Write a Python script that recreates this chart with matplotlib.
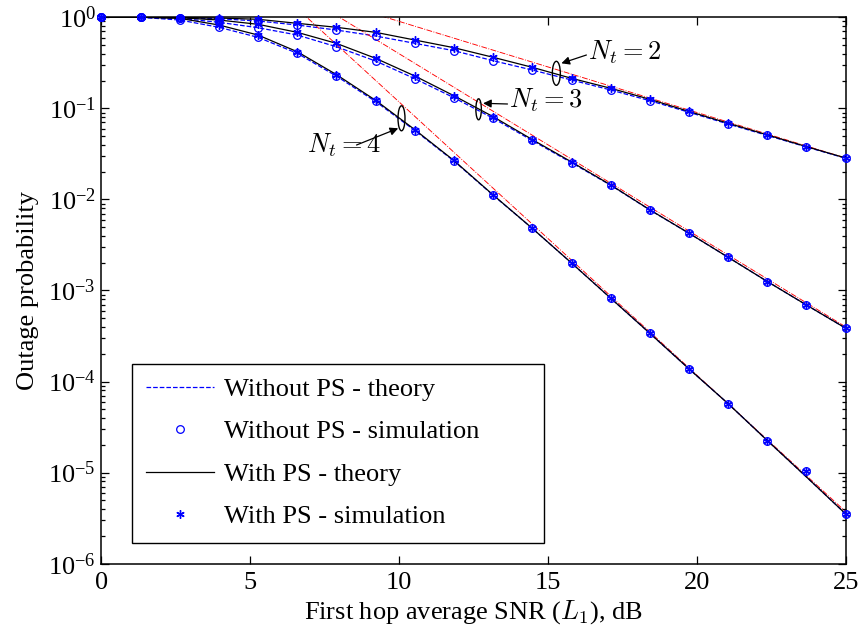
import numpy as np
import matplotlib
matplotlib.use('Agg')
import matplotlib.pyplot as plt
from matplotlib.patches import Ellipse, Rectangle
from matplotlib.transforms import ScaledTranslation
from matplotlib.ticker import LogLocator, NullFormatter

plt.rcParams['font.family'] = ['Liberation Serif', 'DejaVu Serif']
plt.rcParams['mathtext.fontset'] = 'cm'

# ---------------- data ----------------
snr_db = [0, 1.32, 2.63, 3.95, 5.26, 6.58, 7.89, 9.21, 10.53, 11.84,
          13.16, 14.47, 15.79, 17.11, 18.42, 19.74, 21.05, 22.37, 23.68, 25]

# Nt = 2
nops2_theory = [1.0, 1.0, 0.982, 0.965, 0.911, 0.823, 0.725, 0.623, 0.518, 0.430,
                0.3337, 0.2638, 0.2049, 0.1591, 0.1214, 0.0905, 0.0674, 0.0504, 0.0377, 0.0283]
nops2_sim = [1.0, 1.0, 0.982, 0.965, 0.911, 0.823, 0.725, 0.623, 0.518, 0.430,
             0.3337, 0.2638, 0.2049, 0.1591, 0.1214, 0.0905, 0.0674, 0.0504, 0.0377, 0.0283]
ps2_theory = [1.0, 1.0, 0.995, 0.982, 0.951, 0.859, 0.777, 0.684, 0.563, 0.4637,
              0.3637, 0.2825, 0.2139, 0.1661, 0.1258, 0.0924, 0.0687, 0.0511, 0.0380, 0.0285]
ps2_sim = [1.0, 1.0, 0.995, 0.982, 0.951, 0.859, 0.777, 0.684, 0.563, 0.4637,
           0.3637, 0.2825, 0.2139, 0.1661, 0.1258, 0.0924, 0.0687, 0.0511, 0.0380, 0.0285]

# Nt = 3
nops3_theory = [1.0, 1.0, 0.975, 0.881, 0.769, 0.639, 0.4755, 0.3312, 0.2117, 0.1310,
                0.0778, 0.0444, 0.0253, 0.01430, 0.00766, 0.00424, 0.002316, 0.001253, 6.93e-4, 3.85e-4]
nops3_sim = [1.0, 1.0, 0.975, 0.881, 0.769, 0.639, 0.4755, 0.3312, 0.2117, 0.1310,
             0.0778, 0.0444, 0.0253, 0.01430, 0.00766, 0.00424, 0.002316, 0.001253, 6.93e-4, 3.85e-4]
ps3_theory = [1.0, 1.0, 0.990, 0.934, 0.838, 0.684, 0.518, 0.3547, 0.2266, 0.1377,
              0.0810, 0.0455, 0.0258, 0.01441, 0.00769, 0.00425, 0.002316, 0.001253, 6.93e-4, 3.85e-4]
ps3_sim = [1.0, 1.0, 0.990, 0.934, 0.838, 0.684, 0.518, 0.3547, 0.2266, 0.1377,
           0.0810, 0.0455, 0.0258, 0.01441, 0.00769, 0.00425, 0.002316, 0.001253, 6.93e-4, 3.85e-4]

# Nt = 4
nops4_theory = [1.0, 1.0, 0.934, 0.777, 0.603, 0.4025, 0.2266, 0.1190, 0.0571, 0.02643,
                0.01110, 0.00482, 0.002005, 8.21e-4, 3.39e-4, 1.374e-4, 5.72e-5, 2.243e-5, 8.96e-6, 3.51e-6]
nops4_sim = [1.0, 1.0, 0.934, 0.777, 0.603, 0.4025, 0.2266, 0.1190, 0.0571, 0.02643,
             0.01110, 0.00482, 0.002005, 8.21e-4, 3.39e-4, 1.374e-4, 5.72e-5, 2.243e-5, 1.05e-5, 3.51e-6]
ps4_theory = [1.0, 1.0, 0.975, 0.823, 0.639, 0.419, 0.2354, 0.1226, 0.0583, 0.02677,
              0.01119, 0.00482, 0.002005, 8.21e-4, 3.39e-4, 1.374e-4, 5.72e-5, 2.243e-5, 8.96e-6, 3.51e-6]
ps4_sim = [1.0, 1.0, 0.975, 0.823, 0.639, 0.419, 0.2354, 0.1226, 0.0583, 0.02677,
           0.01119, 0.00482, 0.002005, 8.21e-4, 3.39e-4, 1.374e-4, 5.72e-5, 2.243e-5, 1.05e-5, 3.51e-6]

# high-SNR asymptotes (straight lines on log scale, end points)
asym_x = [0, 25]
asym2 = [9.02, 0.0285]
asym3 = [39.8, 3.98e-4]
asym4 = [117.5, 3.72e-6]

xticks = [0, 5, 10, 15, 20, 25]
yexps = [-6, -5, -4, -3, -2, -1, 0]

legend_labels = ['Without PS - theory', 'Without PS - simulation',
                 'With PS - theory', 'With PS - simulation']

# ---------------- figure ----------------
fig = plt.figure(figsize=(8.61, 6.34), dpi=100)
ax = fig.add_axes([0.1177, 0.1109, 0.8646, 0.8618])
ax.set_yscale('log')

FS = 19
blue = (0, 0, 1)
star = (6, 2, 0)

groups = [(nops2_theory, nops2_sim, ps2_theory, ps2_sim, asym2),
          (nops3_theory, nops3_sim, ps3_theory, ps3_sim, asym3),
          (nops4_theory, nops4_sim, ps4_theory, ps4_sim, asym4)]

handles = None
for nt, ns, pt, psim, asy in groups:
    ax.plot(asym_x, asy, linestyle='-.', color='r', lw=0.65, zorder=2)
    h1, = ax.plot(snr_db, nt, linestyle='--', color=blue, lw=0.9, zorder=2)
    h3, = ax.plot(snr_db, pt, linestyle='-', color='k', lw=0.9, zorder=2.5)
    h2, = ax.plot(snr_db, ns, linestyle='none', marker='o', mfc='none', mec=blue,
                  mew=0.9, ms=5.5, clip_on=False, zorder=3)
    h4, = ax.plot(snr_db, psim, linestyle='none', marker=star, color=blue,
                  mew=1.0, ms=6, clip_on=False, zorder=3)
    if handles is None:
        handles = [h1, h2, h3, h4]

ax.set_xlim(0, 25)
ax.set_ylim(1e-6, 1)

ax.set_xticks(xticks)
ax.set_xticklabels([str(v) for v in xticks], fontsize=FS)
ax.set_yticks([10.0 ** e for e in yexps])
ax.set_yticklabels([r'$\mathregular{10^{%d}}$' % e for e in yexps], fontsize=FS)
ax.yaxis.set_minor_locator(LogLocator(base=10, subs=np.arange(2, 10), numticks=20))
ax.yaxis.set_minor_formatter(NullFormatter())
ax.tick_params(which='both', direction='in', top=True, right=True, width=0.9)
ax.tick_params(which='major', length=6, pad=4)
ax.tick_params(axis='x', which='major', pad=6)
ax.tick_params(which='minor', length=3)
for s in ax.spines.values():
    s.set_linewidth(1.1)

ax.set_xlabel(r'First hop average SNR ($L_1$), dB', fontsize=FS, labelpad=3)
ax.set_ylabel('Outage probability', fontsize=FS, labelpad=6)

# legend box (MATLAB-style, wider than its contents)
ax.add_patch(Rectangle((0.0416, 0.0373), 0.5531, 0.3276, transform=ax.transAxes,
                       facecolor='white', edgecolor='k', lw=1.0, zorder=4.9))
leg = ax.legend(handles, legend_labels, loc='upper left', bbox_to_anchor=(0.0416, 0.3649),
                borderaxespad=0, fontsize=FS, frameon=False,
                handlelength=2.6, handletextpad=0.38,
                labelspacing=0.72, borderpad=0.5)
leg.set_zorder(5)

# annotations: ellipses, arrows, labels
annots = [
    # (ellipse center x, y), (w px, h px), arrow tip, arrow tail, text pos, text
    ((15.28, 0.2427), (8, 24), (15.45, 0.3126), (16.29, 0.3855), (16.33, 0.4159), r'$N_t=2$'),
    ((12.67, 0.0977), (5.5, 21), (12.82, 0.1137), (13.64, 0.1117), (13.69, 0.1236), r'$N_t=3$'),
    ((10.08, 0.0778), (7, 25), (9.97, 0.0604), (8.57, 0.0396), (6.89, 0.0396), r'$N_t=4$'),
]
for (cx, cy), (w, h), tip, tail, tpos, label in annots:
    tr = fig.dpi_scale_trans + ScaledTranslation(cx, cy, ax.transData)
    ax.add_patch(Ellipse((0, 0), w / 100.0, h / 100.0, transform=tr,
                         fill=False, edgecolor='k', lw=1.0, zorder=4, clip_on=False))
    ax.annotate('', xy=tip, xytext=tail,
                arrowprops=dict(arrowstyle='-|>', color='k', lw=0.9,
                                mutation_scale=12, shrinkA=0, shrinkB=0), zorder=4)
    ax.text(tpos[0], tpos[1], label, fontsize=19, ha='left', va='center', zorder=4)

fig.savefig('out.png', dpi=100)
